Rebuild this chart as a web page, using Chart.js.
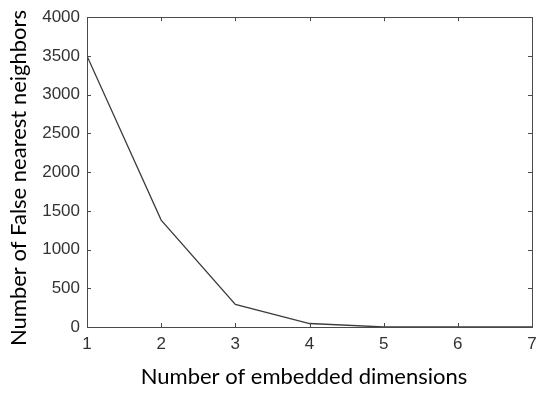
<!DOCTYPE html>
<html>
<head>
<meta charset="utf-8">
<script src="https://cdn.jsdelivr.net/npm/chart.js@4"></script>
<style>
html,body{margin:0;padding:0;background:#fff;}
#wrap{width:550px;height:394px;position:relative;}
</style>
</head>
<body>
<div id="wrap"><canvas id="c" width="550" height="394"></canvas></div>
<script>
const dimensions = [1, 2, 3, 4, 5, 6, 7];
const falseNeighbors = [3500, 1380, 292, 45, 0, 0, 0];
const yTicks = [0, 500, 1000, 1500, 2000, 2500, 3000, 3500, 4000];
const xTicks = [1, 2, 3, 4, 5, 6, 7];
const xTitle = 'Number of embedded dimensions';
const yTitle = 'Number of False nearest neighbors';

const boxPlugin = {
  id: 'box',
  afterDraw(chart) {
    const {ctx, chartArea: a, scales: {x, y}} = chart;
    ctx.save();
    ctx.strokeStyle = '#4a4a4a';
    ctx.lineWidth = 1;
    ctx.strokeRect(Math.round(a.left) + 0.5, Math.round(a.top) + 0.5,
                   Math.round(a.right - a.left), Math.round(a.bottom - a.top));
    const L = 4;
    ctx.beginPath();
    xTicks.forEach(v => {
      const px = Math.round(x.getPixelForValue(v)) + 0.5;
      ctx.moveTo(px, a.bottom); ctx.lineTo(px, a.bottom - L);
      ctx.moveTo(px, a.top); ctx.lineTo(px, a.top + L);
    });
    yTicks.forEach(v => {
      const py = Math.round(y.getPixelForValue(v)) + 0.5;
      ctx.moveTo(a.left, py); ctx.lineTo(a.left + L, py);
      ctx.moveTo(a.right, py); ctx.lineTo(a.right - L, py);
    });
    ctx.stroke();
    // axis titles
    ctx.fillStyle = '#000';
    ctx.font = '22px Lato, "Open Sans", sans-serif';
    ctx.textAlign = 'center';
    ctx.textBaseline = 'middle';
    ctx.fillText(xTitle, 304, 377);
    ctx.translate(19, 178);
    ctx.rotate(-Math.PI / 2);
    ctx.fillText(yTitle, 0, 0);
    ctx.restore();
  }
};

const tickFont = {family: '"Liberation Sans"', size: 17};

new Chart(document.getElementById('c'), {
  type: 'line',
  data: {
    datasets: [{
      data: dimensions.map((d, i) => ({x: d, y: falseNeighbors[i]})),
      borderColor: '#3c3c3c',
      borderWidth: 1.3,
      pointRadius: 0,
      fill: false,
      tension: 0
    }]
  },
  options: {
    responsive: false,
    animation: false,
    events: [],
    layout: {padding: {left: 0, right: 18, top: 14, bottom: 0}},
    plugins: {legend: {display: false}, tooltip: {enabled: false}},
    scales: {
      x: {
        type: 'linear', min: 1, max: 7,
        afterBuildTicks: s => { s.ticks = xTicks.map(v => ({value: v})); },
        afterFit: s => { s.height = 67; },
        grid: {display: false, drawTicks: false},
        border: {display: false},
        ticks: {color: '#333', font: tickFont, padding: 7, maxRotation: 0,
                callback: v => String(v)}
      },
      y: {
        type: 'linear', min: 0, max: 4000,
        afterBuildTicks: s => { s.ticks = yTicks.map(v => ({value: v})); },
        afterFit: s => { s.width = 87; },
        grid: {display: false, drawTicks: false},
        border: {display: false},
        ticks: {color: '#333', font: tickFont, padding: 7,
                callback: v => String(v)}
      }
    }
  },
  plugins: [boxPlugin]
});
</script>
</body>
</html>
